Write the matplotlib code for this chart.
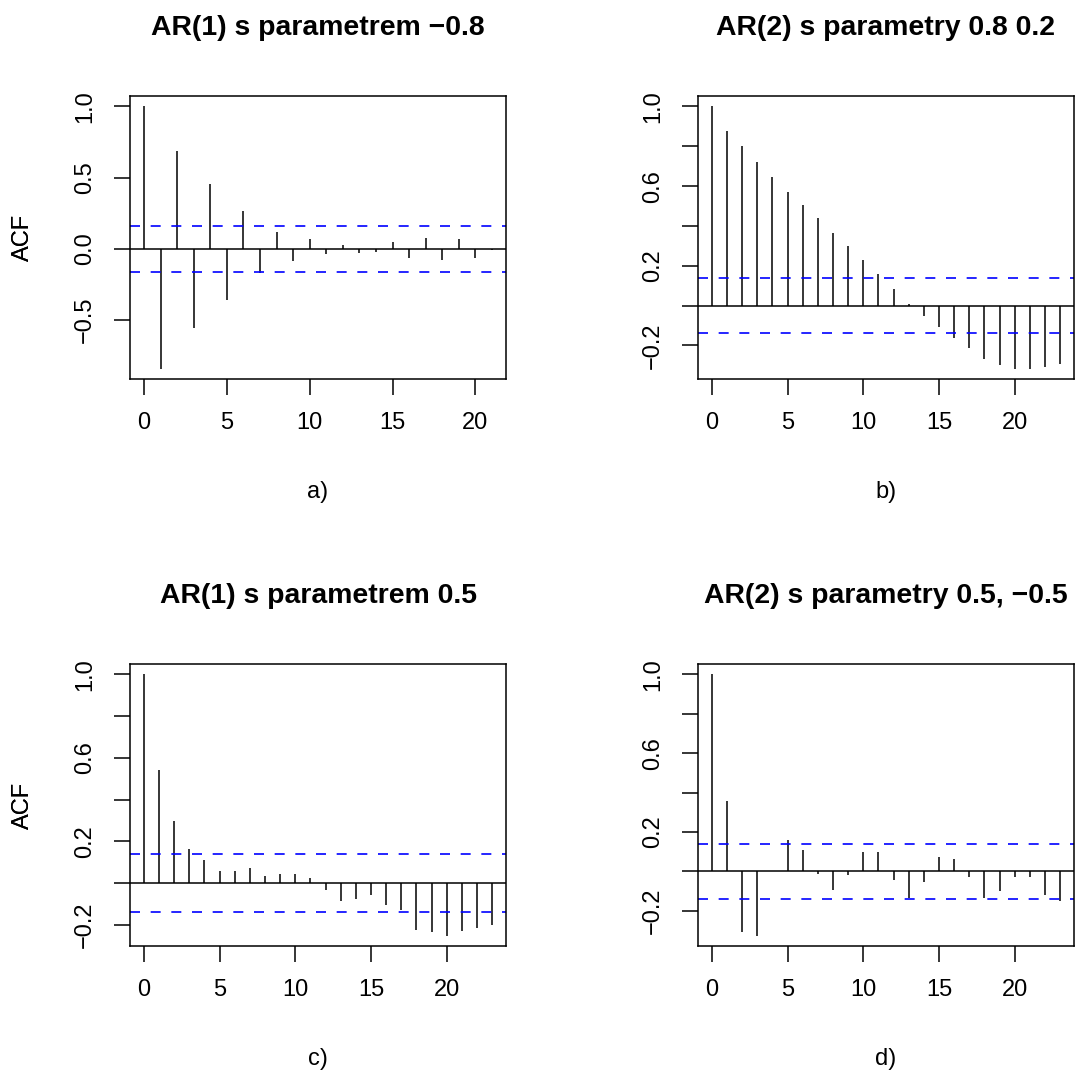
import numpy as np
import matplotlib
matplotlib.use("Agg")
import matplotlib.pyplot as plt

plt.rcParams["font.family"] = ["Liberation Sans", "DejaVu Sans"]

# Sample autocorrelations of the four simulated series
acf_a = [1.0, -0.84, 0.69, -0.554, 0.453, -0.359, 0.265, -0.169, 0.12, -0.082,
         0.066, -0.038, 0.03, -0.028, -0.019, 0.045, -0.066, 0.073, -0.077,
         0.068, -0.061, -0.008]
acf_b = [1.0, 0.875, 0.803, 0.72, 0.648, 0.569, 0.504, 0.44, 0.363, 0.298,
         0.229, 0.161, 0.084, 0.008, -0.054, -0.105, -0.164, -0.213, -0.27,
         -0.298, -0.316, -0.316, -0.308, -0.293]
acf_c = [1.0, 0.541, 0.299, 0.164, 0.11, 0.057, 0.057, 0.073, 0.035, 0.043,
         0.046, 0.027, -0.032, -0.084, -0.075, -0.057, -0.103, -0.13, -0.226,
         -0.235, -0.251, -0.229, -0.215, -0.2]
acf_d = [1.0, 0.355, -0.31, -0.327, 0.003, 0.16, 0.108, -0.015, -0.094, -0.02,
         0.099, 0.096, -0.044, -0.138, -0.056, 0.072, 0.064, -0.029, -0.138,
         -0.099, -0.03, -0.027, -0.123, -0.152]

# 95 % confidence bounds (1.96 / sqrt(n))
conf = [0.160, 0.139, 0.139, 0.139]

titles = ["AR(1) s parametrem \u22120.8", "AR(2) s parametry 0.8 0.2",
          "AR(1) s parametrem 0.5", "AR(2) s parametry 0.5, \u22120.5"]
sublabels = ["a)", "b)", "c)", "d)"]

yticks_a = [-0.5, 0.0, 0.5, 1.0]
yticklabels_a = ["\u22120.5", "0.0", "0.5", "1.0"]
yticks_bcd = [-0.2, 0.0, 0.2, 0.4, 0.6, 0.8, 1.0]
yticklabels_bcd = ["\u22120.2", "", "0.2", "", "0.6", "", "1.0"]
xticks = [0, 5, 10, 15, 20]

W, H = 1090, 1073
DPI = 100
fig = plt.figure(figsize=(W / DPI, H / DPI), dpi=DPI)

# panel boxes in pixels: left, top, right, bottom
boxes = [(130, 96, 506, 379), (698, 96, 1074, 379),
         (130, 664, 506, 946), (698, 664, 1074, 946)]

series = [acf_a, acf_b, acf_c, acf_d]
px = 72.0 / DPI  # points per pixel
FS = 17
LW = 1.1

for i, (vals, c, title, sub, box) in enumerate(zip(series, conf, titles, sublabels, boxes)):
    l, t, r, b = box
    ax = fig.add_axes([l / W, 1 - b / H, (r - l) / W, (b - t) / H])
    vals = np.asarray(vals)
    lags = np.arange(len(vals))

    ax.vlines(lags, 0, vals, color="black", lw=LW)
    ax.axhline(0, color="black", lw=LW)
    for lim in (c, -c):
        ax.axhline(lim, color="blue", lw=1.2, ls=(0, (6.0, 6.4)))

    n = len(vals) - 1
    ax.set_xlim(-0.04 * n, n * 1.04)
    lo = min(vals.min(), -c)
    hi = max(vals.max(), c)
    pad = 0.04 * (hi - lo)
    ax.set_ylim(lo - pad, hi + pad)

    ax.set_xticks(xticks)
    ax.set_xticklabels([str(v) for v in xticks])
    if i == 0:
        ax.set_yticks(yticks_a)
        ax.set_yticklabels(yticklabels_a)
    else:
        ax.set_yticks(yticks_bcd)
        ax.set_yticklabels(yticklabels_bcd)

    for s in ax.spines.values():
        s.set_linewidth(LW)
    ax.tick_params(direction="out", length=16 * px, width=LW, labelsize=FS,
                   color="black")
    ax.tick_params(axis="x", pad=17 * px)
    ax.tick_params(axis="y", pad=18 * px)
    for lab in ax.get_yticklabels():
        lab.set_rotation(90)
        lab.set_va("center")

    ax.set_title(title, fontsize=FS * 1.2, fontweight="bold", pad=61 * px)
    ax.set_ylabel("ACF", fontsize=FS)
    ax.yaxis.set_label_coords(-(l - 22.5) / (r - l), 0.5)
    ax.yaxis.label.set_va("center")
    ax.set_xlabel(sub, fontsize=FS)
    ax.xaxis.set_label_coords(0.5, -(498 - 379) / (b - t))
    ax.xaxis.label.set_va("baseline")

fig.savefig("out.png", dpi=DPI)
